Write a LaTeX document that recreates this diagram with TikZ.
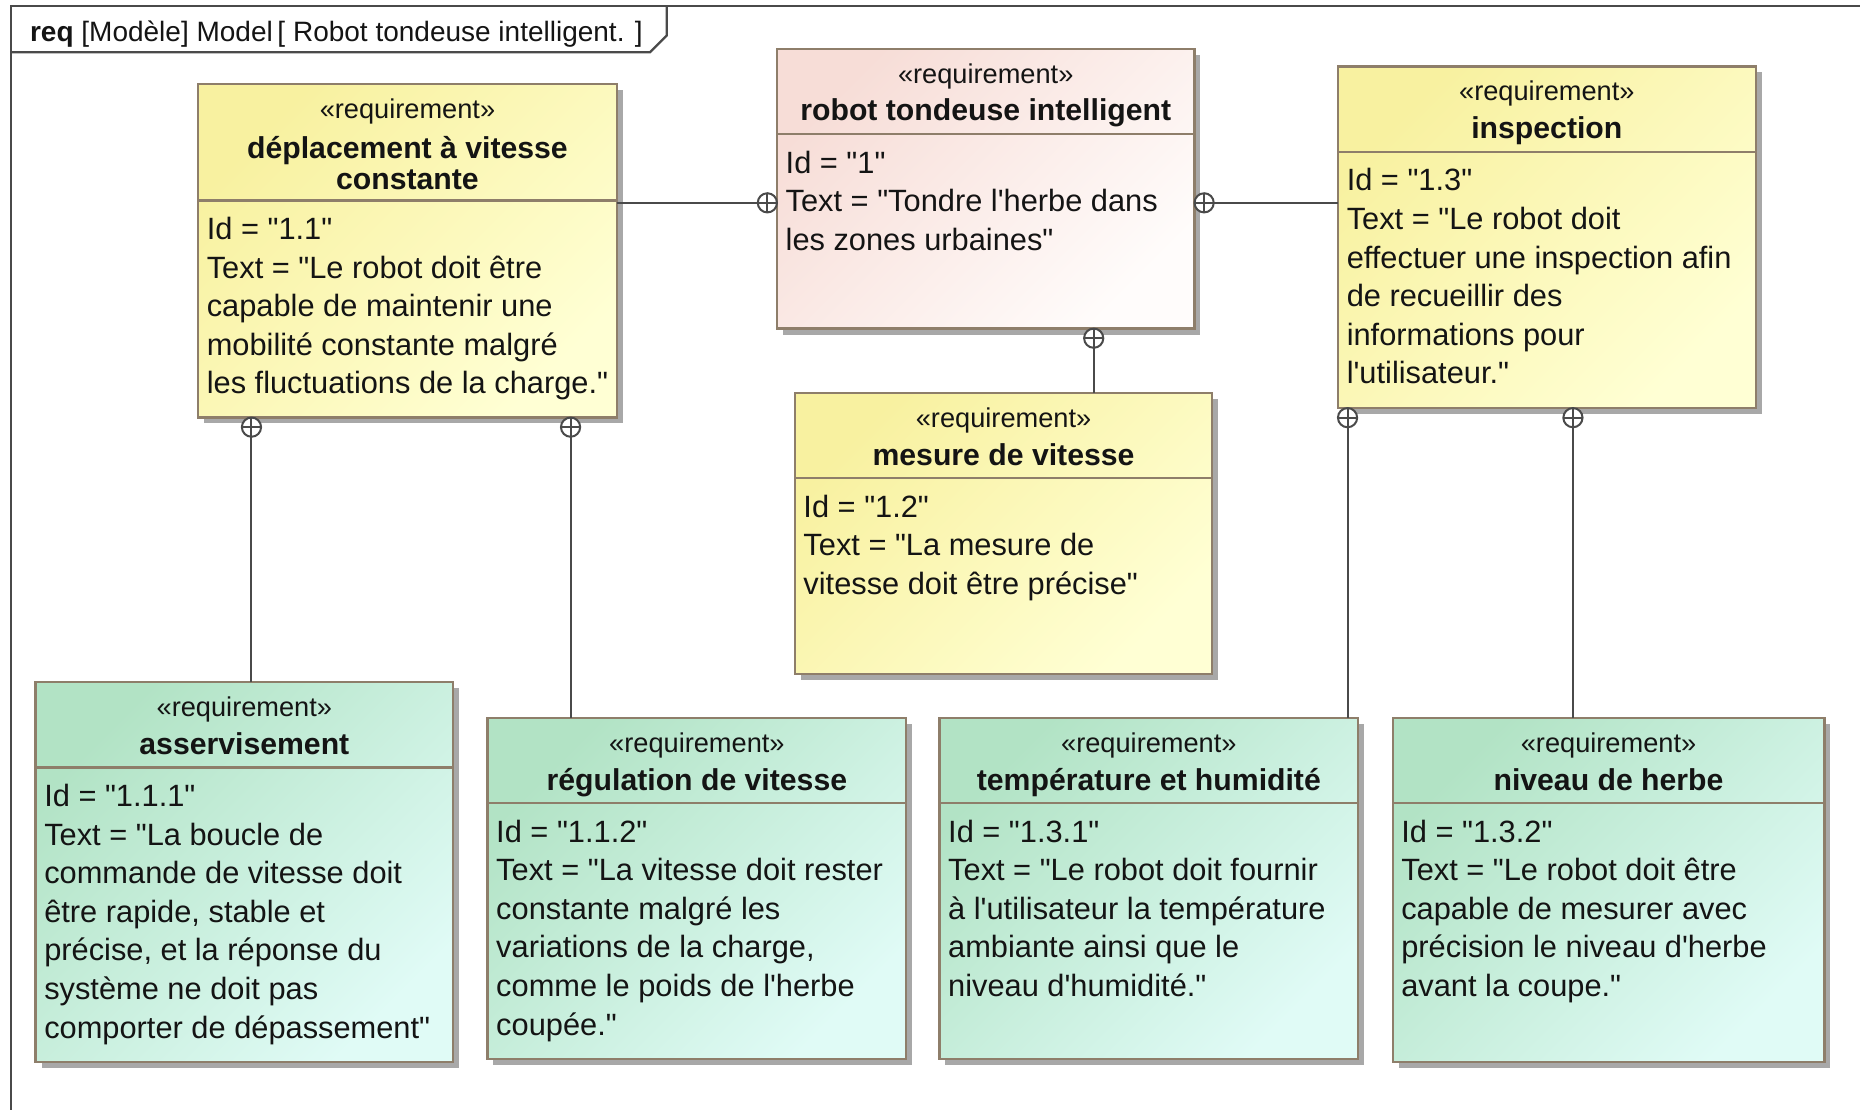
\documentclass[tikz,border=0pt]{standalone}
\usepackage{fontspec}
\setmainfont{Liberation Sans}
\newfontfamily\uifont{Liberation Sans}
\usetikzlibrary{calc}
\definecolor{ylA}{HTML}{F8F1A0}
\definecolor{ylB}{HTML}{FFFFD4}
\definecolor{grA}{HTML}{B2E3C5}
\definecolor{grB}{HTML}{E0FBF6}
\definecolor{pkA}{HTML}{F7DDD7}
\definecolor{pkB}{HTML}{FFFCFB}
\definecolor{bord}{HTML}{8E7E6A}
\definecolor{connc}{HTML}{4A4A4A}
\definecolor{shad}{HTML}{A8A8A8}
\definecolor{txt}{HTML}{141414}
\tikzset{
  boxline/.style={draw=bord, line width=1.1pt},
  yel/.style={top color=ylA, bottom color=ylB, shading angle=45},
  grn/.style={top color=grA, bottom color=grB, shading angle=45},
  pnk/.style={top color=pkA, bottom color=pkB, shading angle=45},
  stereo/.style={anchor=base, inner sep=0pt, text=txt, font=\uifont\fontsize{13.6}{16}\selectfont},
  rname/.style={anchor=base, inner sep=0pt, text=txt, font=\uifont\bfseries\fontsize{15.1}{15.5}\selectfont},
  rnametwo/.style={anchor=north, inner sep=0pt, align=center, text=txt, font=\uifont\bfseries\fontsize{15.1}{15.5}\selectfont},
  rbody/.style={anchor=north west, inner sep=0pt, align=left, text=txt, font=\uifont\fontsize{15.4}{19.3}\selectfont},
  connline/.style={draw=connc, line width=1pt},
  frameline/.style={draw=connc, line width=1.1pt},
  cmark/.pic={
    \draw[connline, fill=white] (0,0) circle[radius=4.8pt];
    \draw[connline] (-4.8pt,0) -- (4.8pt,0) (0,-4.8pt) -- (0,4.8pt);
  }
}
\newcommand\ReqBox[7]{%
  \fill[shad] (#2+5,#3+5) rectangle (#4+5,#5+5);
  \node[#7, boxline, anchor=north west, inner sep=0pt, outer sep=0pt,
        minimum width={(#4-#2)*0.5931pt}, minimum height={(#5-#3)*0.5931pt}] (#1) at (#2,#3) {};
  \draw[boxline] (#2,#6) -- (#4,#6);
}
\begin{document}
\begin{tikzpicture}[x=0.5931pt, y=-0.5931pt]
\fill[white] (0,0) rectangle (1568,936);
\useasboundingbox (0,0) rectangle (1568,936);

% frame
\draw[frameline] (1568,5) -- (9,5) -- (9,936);
\draw[frameline] (9,44) -- (548,44) -- (562,30) -- (562,5);
\node[anchor=base west, inner sep=0pt, text=txt, font=\uifont\fontsize{14}{16}\selectfont] (title) at (25,35)
  {\textbf{req} [Modèle] Model\,[ Robot tondeuse intelligent. ]};

% boxes
\ReqBox{dep}{167}{71}{520}{352}{169}{yel}
\ReqBox{rob}{655}{41}{1007}{277}{113}{pnk}
\ReqBox{ins}{1128}{56}{1480}{344}{128}{yel}
\ReqBox{mes}{670}{331}{1022}{568}{403}{yel}
\ReqBox{ass}{30}{575}{382}{895}{647}{grn}
\ReqBox{reg}{411}{605}{764}{893}{677}{grn}
\ReqBox{tem}{792}{605}{1145}{893}{677}{grn}
\ReqBox{niv}{1174}{605}{1538}{895}{677}{grn}

% texts
\node[stereo] (deps) at (343.5,100) {«requirement»};
\node[rnametwo] (depn) at (343.5,114.5) {\rule{0pt}{11pt}déplacement à vitesse\\constante};
\node[rbody] (depb) at (174,181.3) {\rule{0pt}{12pt}Id = "1.1"\\Text = "Le robot doit être\\capable de maintenir une\\mobilité constante malgré\\les fluctuations de la charge."};

\node[stereo] (robs) at (831,70) {«requirement»};
\node[rname] (robn) at (831,102) {robot tondeuse intelligent};
\node[rbody] (robb) at (662,125.3) {\rule{0pt}{12pt}Id = "1"\\Text = "Tondre l'herbe dans\\les zones urbaines"};

\node[stereo] (inss) at (1304,85) {«requirement»};
\node[rname] (insn) at (1304,117) {inspection};
\node[rbody] (insb) at (1135,140.3) {\rule{0pt}{12pt}Id = "1.3"\\Text = "Le robot doit\\effectuer une inspection afin\\de recueillir des\\informations pour\\l'utilisateur."};

\node[stereo] (mess) at (846,360) {«requirement»};
\node[rname] (mesn) at (846,392) {mesure de vitesse};
\node[rbody] (mesb) at (677,415.3) {\rule{0pt}{12pt}Id = "1.2"\\Text = "La mesure de\\vitesse doit être précise"};

\node[stereo] (asss) at (206,604) {«requirement»};
\node[rname] (assn) at (206,636) {asservisement};
\node[rbody] (assb) at (37,659.3) {\rule{0pt}{12pt}Id = "1.1.1"\\Text = "La boucle de\\commande de vitesse doit\\être rapide, stable et\\précise, et la réponse du\\système ne doit pas\\comporter de dépassement"};

\node[stereo] (regs) at (587.5,634) {«requirement»};
\node[rname] (regn) at (587.5,666) {régulation de vitesse};
\node[rbody] (regb) at (418,689.3) {\rule{0pt}{12pt}Id = "1.1.2"\\Text = "La vitesse doit rester\\constante malgré les\\variations de la charge,\\comme le poids de l'herbe\\coupée."};

\node[stereo] (tems) at (968.5,634) {«requirement»};
\node[rname] (temn) at (968.5,666) {température et humidité};
\node[rbody] (temb) at (799,689.3) {\rule{0pt}{12pt}Id = "1.3.1"\\Text = "Le robot doit fournir\\à l'utilisateur la température\\ambiante ainsi que le\\niveau d'humidité."};

\node[stereo] (nivs) at (1356,634) {«requirement»};
\node[rname] (nivn) at (1356,666) {niveau de herbe};
\node[rbody] (nivb) at (1181,689.3) {\rule{0pt}{12pt}Id = "1.3.2"\\Text = "Le robot doit être\\capable de mesurer avec\\précision le niveau d'herbe\\avant la coupe."};

% connector guides
\coordinate (h1) at (0,171);
\coordinate (v1) at (922,0);
\coordinate (v2) at (212,0);
\coordinate (v3) at (481,0);
\coordinate (v4) at (1136,0);
\coordinate (v5) at (1326,0);

% connectors
\draw[connline] (dep.east |- h1) -- (rob.west |- h1);
\draw[connline] (ins.west |- h1) -- (rob.east |- h1);
\draw[connline] (mes.north -| v1) -- (rob.south -| v1);
\draw[connline] (ass.north -| v2) -- (dep.south -| v2);
\draw[connline] (reg.north -| v3) -- (dep.south -| v3);
\draw[connline] (tem.north -| v4) -- (ins.south -| v4);
\draw[connline] (niv.north -| v5) -- (ins.south -| v5);

% containment marks
\pic at ($(rob.west |- h1)+(-8.1,0)$) {cmark};
\pic at ($(rob.east |- h1)+(8.1,0)$) {cmark};
\pic at ($(rob.south -| v1)+(0,8.1)$) {cmark};
\pic at ($(dep.south -| v2)+(0,8.1)$) {cmark};
\pic at ($(dep.south -| v3)+(0,8.1)$) {cmark};
\pic at ($(ins.south -| v4)+(0,8.1)$) {cmark};
\pic at ($(ins.south -| v5)+(0,8.1)$) {cmark};
\end{tikzpicture}
\end{document}
